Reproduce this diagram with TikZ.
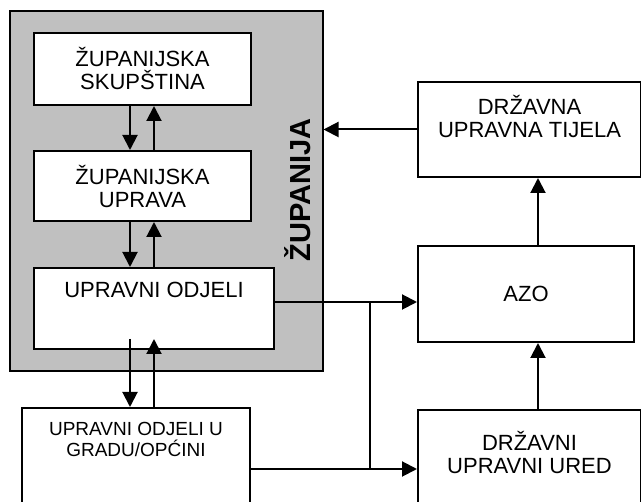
\documentclass[tikz,border=0pt]{standalone}
\usepackage{fontspec}
\setmainfont{Liberation Sans}
\usepackage{xcolor}
\usetikzlibrary{arrows.meta, positioning}

\definecolor{zupsiva}{RGB}{192,192,192}

\begin{document}
\begin{tikzpicture}[x=1pt, y=-1pt,
    blok/.style={draw, line width=2pt, fill=white, rectangle, inner sep=0pt},
    txt/.style={align=center, inner sep=0pt, font=\fontsize{22}{23}\selectfont},
    arr/.style={-{Triangle[length=15pt, width=15pt]}, line width=2pt}
  ]
  \useasboundingbox (0,0) rectangle (641,502);

  % zupanija
  \node[draw, fill=zupsiva, line width=2pt, minimum width=313pt, minimum height=360pt] (zup) at (166,191) {};
  \node[rotate=90, inner sep=0pt, font=\bfseries\fontsize{29}{29}\selectfont] (zupT) at (298,190) {ŽUPANIJA};

  \node[blok, minimum width=217pt, minimum height=72pt] (skupstina) at (142.5,69) {};
  \node[txt, below=15pt of skupstina.north] (skupstinaT) {ŽUPANIJSKA\\SKUPŠTINA};

  \node[blok, minimum width=217pt, minimum height=70pt] (uprava) at (142.5,186) {};
  \node[txt, below=15pt of uprava.north] (upravaT) {ŽUPANIJSKA\\UPRAVA};

  \node[blok, minimum width=240pt, minimum height=81pt] (odjeli) at (154,308.5) {};
  \node[txt, below=15pt of odjeli.north] (odjeliT) {UPRAVNI ODJELI};

  \node[blok, minimum width=228pt, minimum height=112pt] (grad) at (136,464) {};
  \node[txt, font=\fontsize{19}{21}\selectfont, below=15pt of grad.north] (gradT) {UPRAVNI ODJELI U\\GRADU/OPĆINI};

  % drzava
  \node[blok, minimum width=223pt, minimum height=95pt] (tijela) at (529.5,129.5) {};
  \node[txt, below=14pt of tijela.north] (tijelaT) {DRŽAVNA\\UPRAVNA TIJELA};

  \node[blok, minimum width=216pt, minimum height=96pt] (azo) at (526,294) {};
  \node[txt, below=41pt of azo.north] (azoT) {AZO};

  \node[blok, minimum width=223pt, minimum height=110pt] (duu) at (529.5,465) {};
  \node[txt, below=22pt of duu.north] (duuT) {DRŽAVNI\\UPRAVNI URED};

  % veze
  \coordinate (dol) at (130,0);
  \coordinate (gor) at (154,0);
  \coordinate (sred) at (538,0);
  \coordinate (odjeliD) at ([yshift=11pt]odjeli.south);
  \coordinate (j1) at (370,302);
  \coordinate (j2) at (370,469);

  \draw[arr] (skupstina.south -| dol) -- (uprava.north -| dol);
  \draw[arr] (uprava.north -| gor) -- (skupstina.south -| gor);
  \draw[arr] (uprava.south -| dol) -- (odjeli.north -| dol);
  \draw[arr] (odjeli.north -| gor) -- (uprava.south -| gor);
  \draw[arr] (odjeliD -| dol) -- (grad.north -| dol);
  \draw[arr] (grad.north -| gor) -- (odjeliD -| gor);

  \draw[arr] (tijela.west) -- (tijela.west -| zup.east);
  \draw[arr] (azo.north -| sred) -- (tijela.south -| sred);
  \draw[arr] (duu.north -| sred) -- (azo.south -| sred);

  \draw[arr] (odjeli.east |- j1) -- (azo.west |- j1);
  \draw[arr] (grad.east |- j2) -- (duu.west |- j2);
  \draw[line width=2pt] (j1) -- (j2);
\end{tikzpicture}
\end{document}
